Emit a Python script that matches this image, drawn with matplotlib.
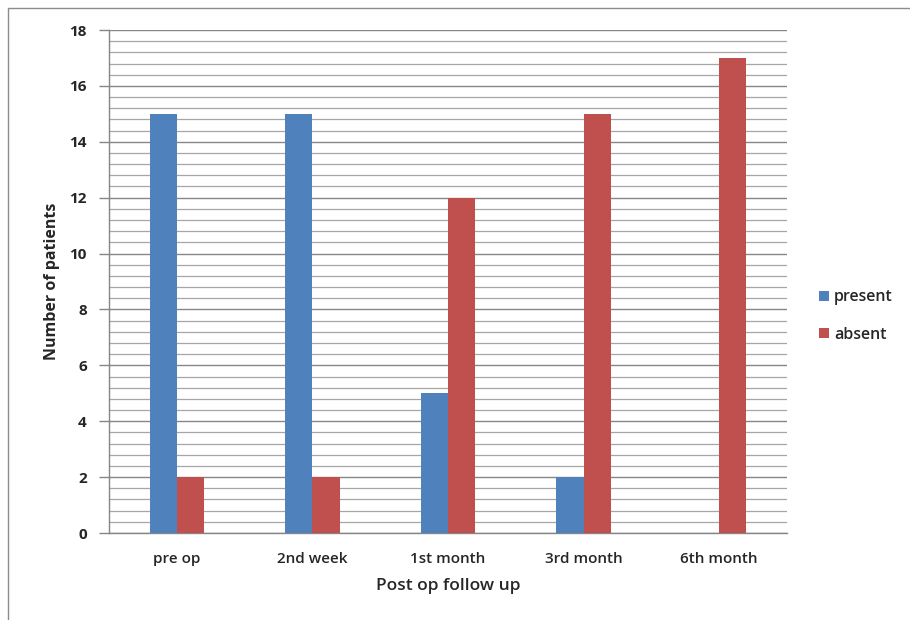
import matplotlib

matplotlib.use("Agg")

import matplotlib.pyplot as plt
import numpy as np
from matplotlib.patches import Rectangle
from matplotlib.ticker import MultipleLocator

plt.rcParams["font.family"] = ["Open Sans", "DejaVu Sans"]

# Follow-up visits and patient counts
visits = ["pre op", "2nd week", "1st month", "3rd month", "6th month"]
present = [15, 15, 5, 2, 0]
absent = [2, 2, 12, 15, 17]

blue = "#4F81BD"
red = "#C0504D"

fig = plt.figure(figsize=(9.1, 6.2), dpi=100)
ax = fig.add_axes([0.1198, 0.1403, 0.745, 0.8113])

# Outer chart border
fig.add_artist(Rectangle((8 / 910, -0.05), 1.2, 1 - 8 / 620 + 0.05,
                         transform=fig.transFigure, fill=False,
                         edgecolor="#8c8c8c", linewidth=1.0))

x = np.arange(len(visits))
w = 0.2
ax.bar(x - w / 2, present, w, color=blue, label="present", zorder=3)
ax.bar(x + w / 2, absent, w, color=red, label="absent", zorder=3)

ax.set_xlim(-0.5, len(visits) - 0.5)
ax.set_ylim(0, 18)
ax.yaxis.set_major_locator(MultipleLocator(2))
ax.yaxis.set_minor_locator(MultipleLocator(0.4))
ax.grid(True, which="major", axis="y", color="#868686", linewidth=1.0, zorder=0)
ax.grid(True, which="minor", axis="y", color="#a6a6a6", linewidth=0.9, zorder=0)

ax.set_xticks(x)
ax.set_xticklabels(visits, fontsize=11, fontweight="semibold", color="#262626")
ax.tick_params(axis="x", length=0, pad=14)
ax.tick_params(axis="y", which="major", length=7, color="#868686", width=1.0,
               labelsize=11, labelcolor="#262626", pad=9)
ax.tick_params(axis="y", which="minor", length=0)
for lbl in ax.get_yticklabels():
    lbl.set_fontweight("bold")

for side in ["top", "right"]:
    ax.spines[side].set_visible(False)
ax.spines["left"].set_color("#868686")
ax.spines["bottom"].set_color("#868686")
ax.spines["left"].set_linewidth(1.0)
ax.spines["bottom"].set_linewidth(1.0)

ax.set_xlabel("Post op follow up", fontsize=12.5, fontweight="semibold",
              color="#262626", labelpad=8)
ax.set_ylabel("Number of patients", fontsize=11.5, fontweight="bold",
              color="#262626", labelpad=7)

leg = ax.legend(loc="center left", bbox_to_anchor=(819 / 910, 1 - 316 / 620),
                bbox_transform=fig.transFigure, frameon=False, fontsize=11.5,
                handlelength=0.6, handleheight=0.6, handletextpad=0.35,
                labelspacing=1.35, borderaxespad=0, borderpad=0)
for t in leg.get_texts():
    t.set_fontweight("semibold")
    t.set_color("#262626")

fig.savefig("out.png", dpi=100, facecolor="white")
